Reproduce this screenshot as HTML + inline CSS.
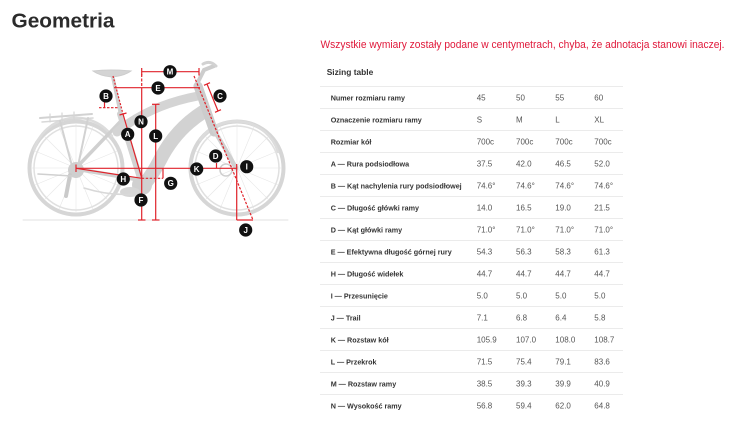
<!DOCTYPE html>
<html><head><meta charset="utf-8"><style>
html,body{margin:0;padding:0;background:#fff;}
svg{display:block;}
.lb{font-family:"Liberation Sans",Arial,sans-serif;font-size:7.2px;font-weight:bold;fill:#333;}
.v{font-family:"Liberation Sans",Arial,sans-serif;font-size:8px;fill:#555;}
.c{font-family:"Liberation Sans",Arial,sans-serif;font-size:8px;font-weight:bold;fill:#fff;text-anchor:middle;}
</style></head><body>
<svg width="750" height="441" viewBox="0 0 750 441" xmlns="http://www.w3.org/2000/svg">
<rect width="750" height="441" fill="#fff"/>
<text x="11.5" y="27.5" font-family="Liberation Sans, Arial, sans-serif" font-weight="bold" font-size="20" fill="#2b2b2b" textLength="103" lengthAdjust="spacingAndGlyphs">Geometria</text>

<!-- BIKE -->
<g fill="none" stroke-linecap="round">
<line x1="23" y1="220" x2="288" y2="220" stroke="#e2e2e2" stroke-width="1"/>
<g stroke="#e6e6e6" stroke-width="0.6">
<line x1="76" y1="168" x2="76" y2="124"/><line x1="76" y1="168" x2="76" y2="212"/>
<line x1="76" y1="168" x2="32" y2="168"/><line x1="76" y1="168" x2="120" y2="168"/>
<line x1="76" y1="168" x2="45" y2="137"/><line x1="76" y1="168" x2="107" y2="199"/>
<line x1="76" y1="168" x2="107" y2="137"/><line x1="76" y1="168" x2="45" y2="199"/>
<line x1="76" y1="168" x2="59" y2="127"/><line x1="76" y1="168" x2="93" y2="209"/>
<line x1="76" y1="168" x2="93" y2="127"/><line x1="76" y1="168" x2="59" y2="209"/>
<line x1="76" y1="168" x2="35" y2="151"/><line x1="76" y1="168" x2="117" y2="185"/>
<line x1="76" y1="168" x2="35" y2="185"/><line x1="76" y1="168" x2="117" y2="151"/>
</g>
<g stroke="#e6e6e6" stroke-width="0.6">
<line x1="237" y1="168" x2="237" y2="124"/><line x1="237" y1="168" x2="237" y2="212"/>
<line x1="237" y1="168" x2="193" y2="168"/><line x1="237" y1="168" x2="281" y2="168"/>
<line x1="237" y1="168" x2="206" y2="137"/><line x1="237" y1="168" x2="268" y2="199"/>
<line x1="237" y1="168" x2="268" y2="137"/><line x1="237" y1="168" x2="206" y2="199"/>
<line x1="237" y1="168" x2="220" y2="127"/><line x1="237" y1="168" x2="254" y2="209"/>
<line x1="237" y1="168" x2="254" y2="127"/><line x1="237" y1="168" x2="220" y2="209"/>
<line x1="237" y1="168" x2="196" y2="151"/><line x1="237" y1="168" x2="278" y2="185"/>
<line x1="237" y1="168" x2="196" y2="185"/><line x1="237" y1="168" x2="278" y2="151"/>
</g>
<circle cx="76" cy="168" r="46.5" stroke="#d6d6d6" stroke-width="4"/>
<circle cx="76" cy="168" r="42" stroke="#e0e0e0" stroke-width="1.5"/>
<circle cx="237" cy="168" r="46.5" stroke="#d6d6d6" stroke-width="4"/>
<circle cx="237" cy="168" r="42" stroke="#e0e0e0" stroke-width="1.5"/>
<path d="M34 150 A44 44 0 0 1 112 136" stroke="#dcdcdc" stroke-width="2.5"/>
<path d="M200 140 A44 44 0 0 1 278 152" stroke="#dcdcdc" stroke-width="2.5"/>
<path d="M40 118 L92 114" stroke="#d2d2d2" stroke-width="2"/>
<path d="M42 122 L93 118" stroke="#d8d8d8" stroke-width="1.5"/>
<path d="M50 114 L50 122 M62 113 L62 121 M74 112 L74 120" stroke="#d6d6d6" stroke-width="1.2"/>
<path d="M60 121 L72 166 M88 118 L78 166" stroke="#d2d2d2" stroke-width="2"/>
<path d="M120 122 L77 167" stroke="#d0d0d0" stroke-width="3.5"/>
<path d="M140 180 L77 169" stroke="#d0d0d0" stroke-width="4"/>
<path d="M140 178 L120 114" stroke="#d2d2d2" stroke-width="6"/>
<path d="M121 116 L113 78" stroke="#cfcfcf" stroke-width="3.5"/>
<path d="M93 71 Q110 69 131 71 Q124 76 112 77 Q100 76 93 71 Z" fill="#d4d4d4" stroke="#cdcdcd" stroke-width="1"/>
<path d="M117 132 Q150 105 198 96" stroke="#d4d4d4" stroke-width="9"/>
<path d="M203 112 Q175 130 160 160 Q152 175 146 182" stroke="#d2d2d2" stroke-width="14"/>
<path d="M198 86 L214 132" stroke="#cccccc" stroke-width="9"/>
<path d="M214 130 Q226 150 236 168" stroke="#d0d0d0" stroke-width="4.5"/>
<path d="M197 84 L204 70 L214 66" stroke="#cdcdcd" stroke-width="4"/>
<path d="M203 64 Q210 60 216 66" stroke="#d2d2d2" stroke-width="3"/>
<circle cx="142" cy="185" r="10" fill="#d0d0d0" stroke="none"/>
<ellipse cx="130" cy="192" rx="10" ry="5" fill="#d6d6d6" stroke="none"/>
<circle cx="76" cy="170" r="8" fill="#cfcfcf" stroke="none"/>
<path d="M70 175 L66 196" stroke="#cacaca" stroke-width="4"/>
<path d="M38 174 L72 176" stroke="#d0d0d0" stroke-width="1.5"/>
<path d="M84 188 Q110 196 132 194" stroke="#d8d8d8" stroke-width="1.5"/>
<circle cx="226" cy="170" r="6" stroke="#cfcfcf" stroke-width="1.5"/>
</g>

<!-- DIMENSIONS -->
<g stroke="#e0232b" stroke-width="1.2" fill="none">
<line x1="141.7" y1="71.7" x2="199" y2="71.7"/>
<line x1="141.7" y1="68" x2="141.7" y2="75.5"/><line x1="199" y1="68" x2="199" y2="75.5"/>
<line x1="114" y1="87.7" x2="200" y2="87.7"/>
<line x1="141.7" y1="74" x2="141.7" y2="88" stroke-dasharray="3,1.5"/>
<line x1="141.7" y1="88" x2="141.7" y2="220"/>
<line x1="138" y1="220" x2="145.5" y2="220"/>
<line x1="155.7" y1="104.3" x2="155.7" y2="220"/>
<line x1="152" y1="104.3" x2="159.5" y2="104.3"/><line x1="152" y1="220" x2="159.5" y2="220"/>
<line x1="113" y1="76" x2="123" y2="114" stroke-dasharray="2,1.5"/>
<line x1="123" y1="114" x2="141.7" y2="178"/>
<line x1="119.5" y1="115" x2="126.5" y2="113"/>
<line x1="99" y1="107.7" x2="118" y2="107.7" stroke-dasharray="2.5,1.5"/>
<line x1="104.5" y1="102" x2="104.5" y2="107.7"/>
<line x1="207" y1="84" x2="218" y2="111"/>
<line x1="204" y1="85.3" x2="210" y2="82.7"/><line x1="215" y1="112.3" x2="221" y2="109.7"/>
<line x1="194" y1="76" x2="253" y2="220" stroke-dasharray="2.5,1.5"/>
<line x1="216.5" y1="163" x2="216.5" y2="168.3"/>
<line x1="76" y1="168.3" x2="237" y2="168.3"/>
<line x1="76" y1="164.5" x2="76" y2="172"/>
<line x1="236.7" y1="164" x2="236.7" y2="220"/>
<line x1="236.7" y1="220" x2="253" y2="220"/>
<line x1="76" y1="168.3" x2="141.7" y2="178.3"/>
<line x1="141.7" y1="178.3" x2="163" y2="178.3" stroke-dasharray="2.5,1.5"/>
<line x1="163" y1="168.3" x2="163" y2="178.3"/>
</g>

<g>
<circle cx="170" cy="71.7" r="6.6" fill="#111"/><text class="c" x="170" y="74.6">M</text>
<circle cx="158" cy="88" r="6.6" fill="#111"/><text class="c" x="158" y="90.9">E</text>
<circle cx="106" cy="96" r="6.6" fill="#111"/><text class="c" x="106" y="98.9">B</text>
<circle cx="220" cy="96" r="6.6" fill="#111"/><text class="c" x="220" y="98.9">C</text>
<circle cx="141" cy="121.7" r="6.6" fill="#111"/><text class="c" x="141" y="124.6">N</text>
<circle cx="127.7" cy="134.3" r="6.6" fill="#111"/><text class="c" x="127.7" y="137.2">A</text>
<circle cx="155.7" cy="136" r="6.6" fill="#111"/><text class="c" x="155.7" y="138.9">L</text>
<circle cx="215.7" cy="156" r="6.6" fill="#111"/><text class="c" x="215.7" y="158.9">D</text>
<circle cx="196.7" cy="169" r="6.6" fill="#111"/><text class="c" x="196.7" y="171.9">K</text>
<circle cx="246.7" cy="166.7" r="6.6" fill="#111"/><text class="c" x="246.7" y="169.6">I</text>
<circle cx="123.3" cy="179" r="6.6" fill="#111"/><text class="c" x="123.3" y="181.9">H</text>
<circle cx="170.7" cy="183.3" r="6.6" fill="#111"/><text class="c" x="170.7" y="186.2">G</text>
<circle cx="141" cy="200" r="6.6" fill="#111"/><text class="c" x="141" y="202.9">F</text>
<circle cx="245.7" cy="230" r="6.6" fill="#111"/><text class="c" x="245.7" y="232.9">J</text>
</g>

<text x="320.5" y="48" font-family="Liberation Sans, Arial, sans-serif" font-size="10.6" fill="#e0183a" textLength="404" lengthAdjust="spacingAndGlyphs">Wszystkie wymiary zostały podane w centymetrach, chyba, że adnotacja stanowi inaczej.</text>
<text x="326.7" y="74.8" font-family="Liberation Sans, Arial, sans-serif" font-size="8.5" font-weight="bold" fill="#333" textLength="46.6" lengthAdjust="spacingAndGlyphs">Sizing table</text>

<g stroke="#ebebeb" stroke-width="1">
<line x1="320" y1="86.5" x2="623" y2="86.5"/>
<line x1="320" y1="108.5" x2="623" y2="108.5"/>
<line x1="320" y1="130.5" x2="623" y2="130.5"/>
<line x1="320" y1="152.5" x2="623" y2="152.5"/>
<line x1="320" y1="174.5" x2="623" y2="174.5"/>
<line x1="320" y1="196.5" x2="623" y2="196.5"/>
<line x1="320" y1="218.5" x2="623" y2="218.5"/>
<line x1="320" y1="240.5" x2="623" y2="240.5"/>
<line x1="320" y1="262.5" x2="623" y2="262.5"/>
<line x1="320" y1="284.5" x2="623" y2="284.5"/>
<line x1="320" y1="306.5" x2="623" y2="306.5"/>
<line x1="320" y1="328.5" x2="623" y2="328.5"/>
<line x1="320" y1="350.5" x2="623" y2="350.5"/>
<line x1="320" y1="372.5" x2="623" y2="372.5"/>
<line x1="320" y1="394.5" x2="623" y2="394.5"/>
</g>

<g>
<text class="lb" x="330.7" y="100.5">Numer rozmiaru ramy</text>
<text class="v" x="476.7" y="100.5">45</text><text class="v" x="516" y="100.5">50</text><text class="v" x="555.3" y="100.5">55</text><text class="v" x="594.3" y="100.5">60</text>

<text class="lb" x="330.7" y="122.5">Oznaczenie rozmiaru ramy</text>
<text class="v" x="476.7" y="122.5">S</text><text class="v" x="516" y="122.5">M</text><text class="v" x="555.3" y="122.5">L</text><text class="v" x="594.3" y="122.5">XL</text>

<text class="lb" x="330.7" y="144.5">Rozmiar kół</text>
<text class="v" x="476.7" y="144.5">700c</text><text class="v" x="516" y="144.5">700c</text><text class="v" x="555.3" y="144.5">700c</text><text class="v" x="594.3" y="144.5">700c</text>

<text class="lb" x="330.7" y="166.5">A — Rura podsiodłowa</text>
<text class="v" x="476.7" y="166.5">37.5</text><text class="v" x="516" y="166.5">42.0</text><text class="v" x="555.3" y="166.5">46.5</text><text class="v" x="594.3" y="166.5">52.0</text>

<text class="lb" x="330.7" y="188.5">B — Kąt nachylenia rury podsiodłowej</text>
<text class="v" x="476.7" y="188.5">74.6°</text><text class="v" x="516" y="188.5">74.6°</text><text class="v" x="555.3" y="188.5">74.6°</text><text class="v" x="594.3" y="188.5">74.6°</text>

<text class="lb" x="330.7" y="210.5">C — Długość główki ramy</text>
<text class="v" x="476.7" y="210.5">14.0</text><text class="v" x="516" y="210.5">16.5</text><text class="v" x="555.3" y="210.5">19.0</text><text class="v" x="594.3" y="210.5">21.5</text>

<text class="lb" x="330.7" y="232.5">D — Kąt główki ramy</text>
<text class="v" x="476.7" y="232.5">71.0°</text><text class="v" x="516" y="232.5">71.0°</text><text class="v" x="555.3" y="232.5">71.0°</text><text class="v" x="594.3" y="232.5">71.0°</text>

<text class="lb" x="330.7" y="254.5">E — Efektywna długość górnej rury</text>
<text class="v" x="476.7" y="254.5">54.3</text><text class="v" x="516" y="254.5">56.3</text><text class="v" x="555.3" y="254.5">58.3</text><text class="v" x="594.3" y="254.5">61.3</text>

<text class="lb" x="330.7" y="276.5">H — Długość widełek</text>
<text class="v" x="476.7" y="276.5">44.7</text><text class="v" x="516" y="276.5">44.7</text><text class="v" x="555.3" y="276.5">44.7</text><text class="v" x="594.3" y="276.5">44.7</text>

<text class="lb" x="330.7" y="298.5">I — Przesunięcie</text>
<text class="v" x="476.7" y="298.5">5.0</text><text class="v" x="516" y="298.5">5.0</text><text class="v" x="555.3" y="298.5">5.0</text><text class="v" x="594.3" y="298.5">5.0</text>

<text class="lb" x="330.7" y="320.5">J — Trail</text>
<text class="v" x="476.7" y="320.5">7.1</text><text class="v" x="516" y="320.5">6.8</text><text class="v" x="555.3" y="320.5">6.4</text><text class="v" x="594.3" y="320.5">5.8</text>

<text class="lb" x="330.7" y="342.5">K — Rozstaw kół</text>
<text class="v" x="476.7" y="342.5">105.9</text><text class="v" x="516" y="342.5">107.0</text><text class="v" x="555.3" y="342.5">108.0</text><text class="v" x="594.3" y="342.5">108.7</text>

<text class="lb" x="330.7" y="364.5">L — Przekrok</text>
<text class="v" x="476.7" y="364.5">71.5</text><text class="v" x="516" y="364.5">75.4</text><text class="v" x="555.3" y="364.5">79.1</text><text class="v" x="594.3" y="364.5">83.6</text>

<text class="lb" x="330.7" y="386.5">M — Rozstaw ramy</text>
<text class="v" x="476.7" y="386.5">38.5</text><text class="v" x="516" y="386.5">39.3</text><text class="v" x="555.3" y="386.5">39.9</text><text class="v" x="594.3" y="386.5">40.9</text>

<text class="lb" x="330.7" y="408.5">N — Wysokość ramy</text>
<text class="v" x="476.7" y="408.5">56.8</text><text class="v" x="516" y="408.5">59.4</text><text class="v" x="555.3" y="408.5">62.0</text><text class="v" x="594.3" y="408.5">64.8</text>
</g>
</svg>
</body></html>
